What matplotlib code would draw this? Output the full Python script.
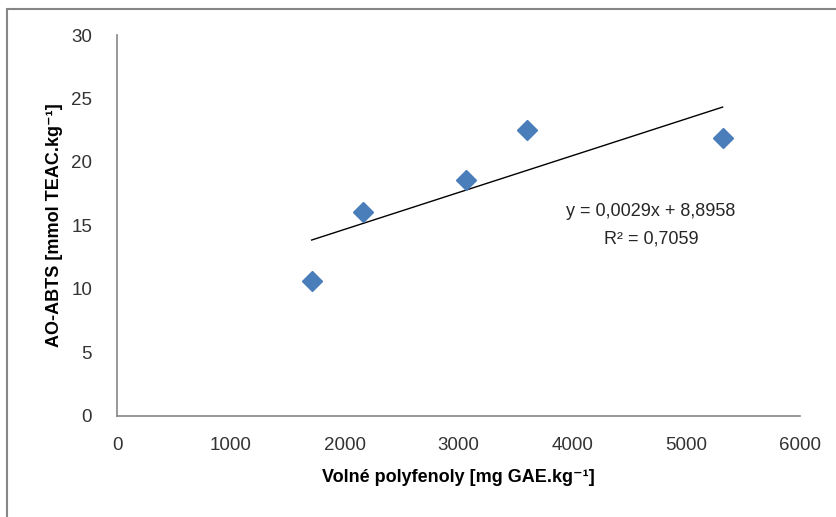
import numpy as np
import matplotlib.pyplot as plt
from matplotlib.patches import Rectangle

# Free polyphenols vs. antioxidant activity (ABTS)
polyfenoly = [1710, 2160, 3070, 3600, 5320]
ao_abts = [10.6, 16.1, 18.6, 22.5, 21.9]

# linear trend reported for the data
slope = 0.0029
intercept = 8.8958
r2 = 0.7059

plt.rcParams['font.family'] = ['Liberation Sans', 'DejaVu Sans']

fig = plt.figure(figsize=(8.37, 5.17), dpi=100)
ax = fig.add_axes([0.1398, 0.1954, 0.816, 0.7369])

ax.plot(polyfenoly, ao_abts, linestyle='none', marker='D', markersize=10,
        color='#4A7EBB', markeredgecolor='#4A7EBB', zorder=3)

xt = np.array([min(polyfenoly), max(polyfenoly)])
ax.plot(xt, slope * xt + intercept, color='black', linewidth=1, zorder=2)

eq = 'y = {:.4f}x + {:.4f}'.format(slope, intercept).replace('.', ',')
ax.text(4690, 16.1, eq, ha='center', va='center', fontsize=13, color='#262626')
ax.text(4690, 13.9, 'R² = {:.4f}'.format(r2).replace('.', ','),
        ha='center', va='center', fontsize=13, color='#262626')

ax.set_xlim(0, 6000)
ax.set_ylim(0, 30)
ax.set_xticks(range(0, 6001, 1000))
ax.set_yticks(range(0, 31, 5))

for s in ['top', 'right']:
    ax.spines[s].set_visible(False)
for s in ['left', 'bottom']:
    ax.spines[s].set_color('#868686')
    ax.spines[s].set_linewidth(1.2)

ax.tick_params(axis='both', length=0, labelsize=13.5, colors='#333333')
ax.tick_params(axis='x', pad=15)
ax.tick_params(axis='y', pad=18)

ax.set_xlabel('Volné polyfenoly [mg GAE.kg⁻¹]', fontsize=13,
              fontweight='bold', labelpad=11)
ax.set_ylabel('AO-ABTS [mmol TEAC.kg⁻¹]', fontsize=13,
              fontweight='bold', labelpad=6)

# outer chart border
fig.patches.append(Rectangle((7 / 837, -0.1), 1.2, 1 - 9 / 517 + 0.1,
                             transform=fig.transFigure, fill=False,
                             edgecolor='#868686', linewidth=1.5))

fig.savefig('out.png', dpi=100)
